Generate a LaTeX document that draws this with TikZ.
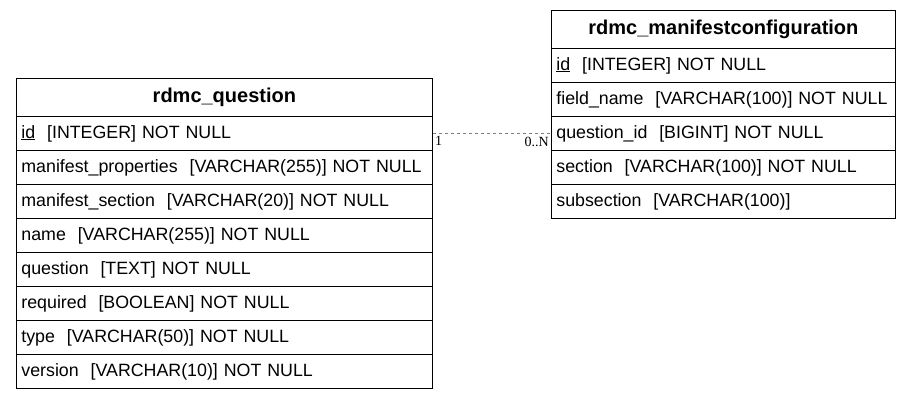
\documentclass[tikz,border=0pt]{standalone}
\usepackage{fontspec}
\setmainfont{Liberation Sans}
\newfontfamily\cardfont{Liberation Serif}
\usetikzlibrary{positioning}

\begin{document}
\begin{tikzpicture}[
    x=1pt, y=-1pt,
    lefthead/.style={rectangle, draw, line width=0.8pt, minimum width=416pt, minimum height=38pt, inner sep=0pt, font=\fontsize{20}{22}\selectfont\bfseries, anchor=north west},
    leftrow/.style={rectangle, draw, line width=0.8pt, text width=406pt, inner xsep=5pt, inner ysep=0pt, minimum height=34pt, align=left, font=\fontsize{17.8}{20}\selectfont, anchor=north west},
    righthead/.style={lefthead, minimum width=344pt},
    rightrow/.style={leftrow, text width=334pt},
    link/.style={draw=gray, dashed, line width=0.7pt},
    card/.style={font=\cardfont\fontsize{14}{15}\selectfont, inner sep=1pt}
]
\useasboundingbox (0,0) rectangle (913,402);

% left table
\node[lefthead] (q) at (16,78) {rdmc\_question};
\node[leftrow] (qid) at (16,116) {\underline{id}\ \ [INTEGER] NOT NULL};
\node[leftrow] (qmp) at (16,150) {manifest\_properties\ \ [VARCHAR(255)] NOT NULL};
\node[leftrow] (qms) at (16,184) {manifest\_section\ \ [VARCHAR(20)] NOT NULL};
\node[leftrow] (qname) at (16,218) {name\ \ [VARCHAR(255)] NOT NULL};
\node[leftrow] (qq) at (16,252) {question\ \ [TEXT] NOT NULL};
\node[leftrow] (qreq) at (16,286) {required\ \ [BOOLEAN] NOT NULL};
\node[leftrow] (qtype) at (16,320) {type\ \ [VARCHAR(50)] NOT NULL};
\node[leftrow] (qver) at (16,354) {version\ \ [VARCHAR(10)] NOT NULL};

% right table
\node[righthead] (mc) at (551,10) {rdmc\_manifestconfiguration};
\node[rightrow] (mcid) at (551,48) {\underline{id}\ \ [INTEGER] NOT NULL};
\node[rightrow] (mcfn) at (551,82) {field\_name\ \ [VARCHAR(100)] NOT NULL};
\node[rightrow] (mcqid) at (551,116) {question\_id\ \ [BIGINT] NOT NULL};
\node[rightrow] (mcsec) at (551,150) {section\ \ [VARCHAR(100)] NOT NULL};
\node[rightrow] (mcsub) at (551,184) {subsection\ \ [VARCHAR(100)]};

% relation
\draw[link] (qid.east) -- (mcqid.west);
\node[card, below right=2pt and 1pt of qid.east] {1};
\node[card, below left=3pt and 1pt of mcqid.west] {0..N};

\end{tikzpicture}
\end{document}
